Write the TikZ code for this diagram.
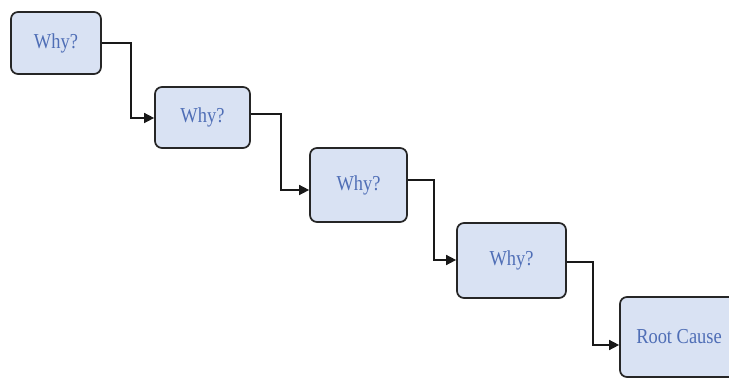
\documentclass[tikz,border=0pt]{standalone}
\usepackage{fontspec}
\setmainfont{Liberation Serif}
\usetikzlibrary{arrows.meta}
\definecolor{boxfill}{HTML}{D9E2F3}
\definecolor{txtblue}{HTML}{4F6EB6}
\tikzset{
  whybox/.style={draw=black!85, line width=1.7pt, rounded corners=7pt, fill=boxfill,
    text=txtblue, font=\fontsize{19}{21}\selectfont, inner sep=0pt},
  conn/.style={draw=black!90, line width=1.5pt, -{Triangle[length=10pt,width=10pt]}}
}
\begin{document}
\begin{tikzpicture}[x=1pt,y=-1pt]
\clip (0,0) rectangle (729,379);
\fill[white] (0,0) rectangle (729,379);
\node[whybox, minimum width=90pt, minimum height=62pt] (b1) at (56,43) {\raisebox{1pt}{\scalebox{0.97}[1.12]{Why?}}};
\node[whybox, minimum width=95pt, minimum height=61pt] (b2) at (202.5,117.5) {\raisebox{1pt}{\scalebox{0.97}[1.12]{Why?}}};
\node[whybox, minimum width=97pt, minimum height=74pt] (b3) at (358.5,185) {\raisebox{3pt}{\scalebox{0.97}[1.12]{Why?}}};
\node[whybox, minimum width=109pt, minimum height=75pt] (b4) at (511.5,260.5) {\raisebox{3pt}{\scalebox{0.97}[1.12]{Why?}}};
\node[whybox, minimum width=118pt, minimum height=80pt] (b5) at (679,337) {\raisebox{2pt}{\scalebox{0.97}[1.12]{Root Cause}}};
\draw[conn] (b1.east) -- ++(29,0) |- ([yshift=-0.5pt]b2.west);
\draw[conn] ([yshift=3.5pt]b2.east) -- ++(30,0) |- ([yshift=-5pt]b3.west);
\draw[conn] ([yshift=5pt]b3.east) -- ++(26,0) |- ([yshift=0.5pt]b4.west);
\draw[conn] ([yshift=-1.5pt]b4.east) -- ++(26,0) |- ([yshift=-8pt]b5.west);
\end{tikzpicture}
\end{document}
